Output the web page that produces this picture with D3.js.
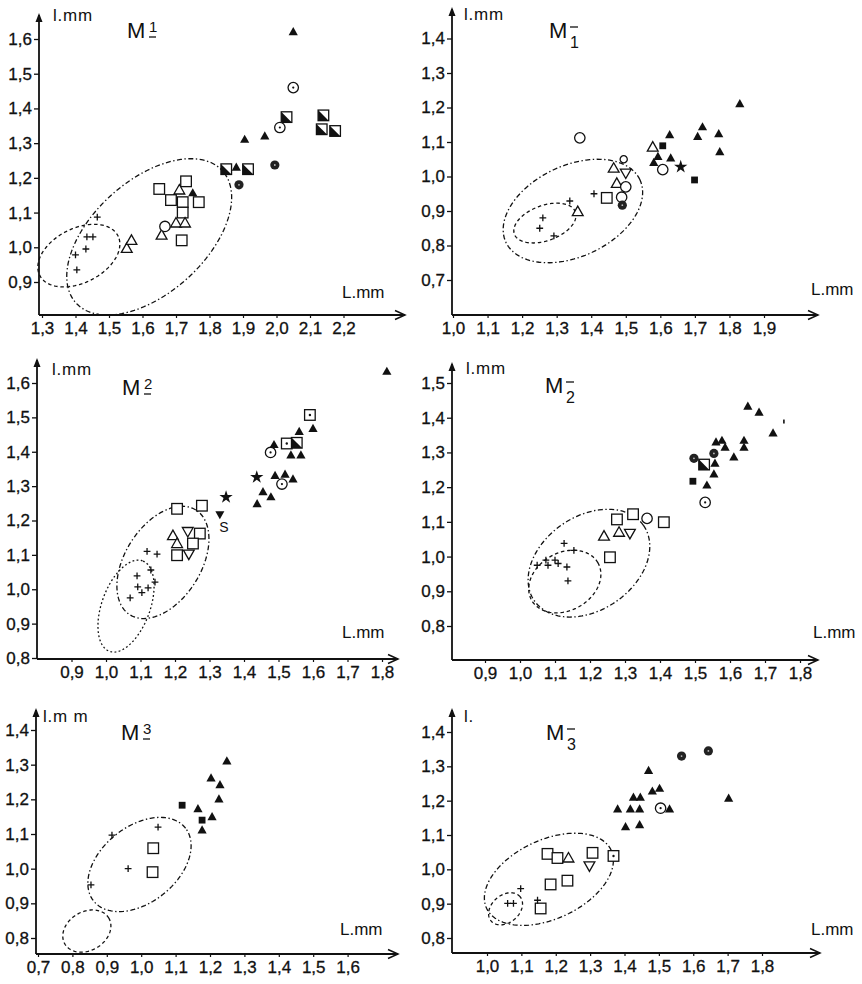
<!DOCTYPE html>
<html>
<head>
<meta charset="utf-8">
<script src="https://cdn.jsdelivr.net/npm/d3@7"></script>
<style>
  body { margin: 0; background: #fff; }
  text { font-family: "Liberation Sans", Arial, sans-serif; fill: #111; }
</style>
</head>
<body>
<div id="chart"></div>
<script>
//////////////////////////////////////////////
//////////////// Data ////////////////////////
//////////////////////////////////////////////

// tick values per panel (labels are written with a decimal comma)
var xTicksM1up = [1.3, 1.4, 1.5, 1.6, 1.7, 1.8, 1.9, 2.0, 2.1, 2.2];
var yTicksM1up = [0.9, 1.0, 1.1, 1.2, 1.3, 1.4, 1.5, 1.6];
var xTicksM1lo = [1.0, 1.1, 1.2, 1.3, 1.4, 1.5, 1.6, 1.7, 1.8, 1.9];
var yTicksM1lo = [0.7, 0.8, 0.9, 1.0, 1.1, 1.2, 1.3, 1.4];
var xTicksM2up = [0.9, 1.0, 1.1, 1.2, 1.3, 1.4, 1.5, 1.6, 1.7, 1.8];
var yTicksM2up = [0.8, 0.9, 1.0, 1.1, 1.2, 1.3, 1.4, 1.5, 1.6];
var xTicksM2lo = [0.9, 1.0, 1.1, 1.2, 1.3, 1.4, 1.5, 1.6, 1.7, 1.8];
var yTicksM2lo = [0.8, 0.9, 1.0, 1.1, 1.2, 1.3, 1.4, 1.5];
var xTicksM3up = [0.7, 0.8, 0.9, 1.0, 1.1, 1.2, 1.3, 1.4, 1.5, 1.6];
var yTicksM3up = [0.8, 0.9, 1.0, 1.1, 1.2, 1.3, 1.4];
var xTicksM3lo = [1.0, 1.1, 1.2, 1.3, 1.4, 1.5, 1.6, 1.7, 1.8];
var yTicksM3lo = [0.8, 0.9, 1.0, 1.1, 1.2, 1.3, 1.4];

// points: [L, l, symbol]
var pointsM1up = [
  [2.05, 1.62, "triF"], [2.05, 1.46, "cirD"], [2.14, 1.38, "sqH"], [2.135, 1.34, "sqH"],
  [2.175, 1.335, "sqH"], [2.03, 1.375, "sqH"], [2.01, 1.345, "cirD"], [1.905, 1.31, "triF"],
  [1.965, 1.32, "triF"], [1.995, 1.237, "cirF"], [1.85, 1.225, "sqH"], [1.88, 1.23, "triF"],
  [1.915, 1.225, "sqH"], [1.888, 1.18, "cirF"],
  [1.65, 1.168, "sqO"], [1.73, 1.19, "sqO"], [1.685, 1.136, "sqO"], [1.72, 1.13, "sqO"],
  [1.768, 1.13, "sqO"], [1.72, 1.10, "sqO"], [1.717, 1.02, "sqO"],
  [1.71, 1.165, "triO"], [1.70, 1.07, "triO"], [1.727, 1.07, "triO"], [1.657, 1.035, "triO"],
  [1.553, 0.997, "triO"], [1.567, 1.02, "triO"], [1.75, 1.156, "triF"], [1.667, 1.06, "cirO"],
  [1.434, 1.03, "plus"], [1.452, 1.03, "plus"], [1.431, 0.995, "plus"], [1.40, 0.978, "plus"],
  [1.404, 0.935, "plus"], [1.465, 1.087, "plus"]
];
var pointsM1lo = [
  [1.83, 1.21, "triF"], [1.627, 1.12, "triF"], [1.722, 1.143, "triF"], [1.708, 1.115, "triF"],
  [1.769, 1.123, "triF"], [1.772, 1.071, "triF"], [1.593, 1.057, "triF"], [1.581, 1.04, "triF"],
  [1.63, 1.053, "triF"], [1.607, 1.089, "sqF"], [1.699, 0.99, "sqF"], [1.659, 1.028, "star"],
  [1.607, 1.02, "cirO"], [1.578, 1.085, "triO"], [1.465, 1.024, "triO"], [1.474, 0.98, "triO"],
  [1.361, 0.898, "triO"], [1.5, 1.01, "invO"], [1.367, 1.112, "cirO"], [1.494, 1.05, "cirS"],
  [1.5, 0.97, "cirO"], [1.488, 0.94, "cirO"], [1.445, 0.938, "sqO"], [1.49, 0.917, "cirF"],
  [1.408, 0.95, "plus"], [1.338, 0.929, "plus"], [1.26, 0.88, "plus"], [1.251, 0.85, "plus"],
  [1.292, 0.828, "plus"]
];
var pointsM2up = [
  [1.814, 1.633, "triF"], [1.591, 1.507, "sqD"], [1.60, 1.467, "triF"], [1.56, 1.458, "triF"],
  [1.524, 1.424, "sqD"], [1.553, 1.426, "sqH"], [1.536, 1.39, "triF"], [1.565, 1.39, "triF"],
  [1.487, 1.42, "triF"], [1.477, 1.398, "cirD"], [1.437, 1.326, "star"], [1.49, 1.33, "triF"],
  [1.519, 1.334, "triF"], [1.542, 1.32, "triF"], [1.51, 1.306, "cirD"], [1.455, 1.283, "triF"],
  [1.478, 1.268, "triF"], [1.438, 1.248, "triF"], [1.348, 1.268, "star"], [1.33, 1.217, "invF"],
  [1.206, 1.234, "sqO"], [1.278, 1.243, "sqO"], [1.272, 1.162, "sqO"], [1.252, 1.133, "sqO"],
  [1.206, 1.099, "sqO"], [1.194, 1.156, "triO"], [1.206, 1.133, "triO"], [1.237, 1.168, "invO"],
  [1.24, 1.102, "invO"],
  [1.119, 1.11, "plus"], [1.148, 1.102, "plus"], [1.13, 1.056, "plus"], [1.09, 1.039, "plus"],
  [1.142, 1.021, "plus"], [1.092, 1.007, "plus"], [1.122, 1.004, "plus"], [1.104, 0.99, "plus"],
  [1.07, 0.975, "plus"]
];
var pointsM2lo = [
  [1.651, 1.432, "triF"], [1.683, 1.415, "triF"], [1.723, 1.355, "triF"], [1.754, 1.389, "dot"],
  [1.56, 1.329, "triF"], [1.577, 1.334, "triF"], [1.586, 1.314, "triF"], [1.64, 1.334, "triF"],
  [1.64, 1.314, "triF"], [1.611, 1.286, "triF"], [1.557, 1.268, "triF"], [1.554, 1.237, "triF"],
  [1.534, 1.205, "triF"], [1.497, 1.283, "cirF"], [1.554, 1.297, "cirF"], [1.526, 1.265, "sqH"],
  [1.494, 1.217, "sqF"], [1.529, 1.156, "cirD"],
  [1.277, 1.107, "sqO"], [1.323, 1.122, "sqO"], [1.411, 1.099, "sqO"], [1.257, 0.998, "sqO"],
  [1.363, 1.11, "cirO"], [1.24, 1.059, "triO"], [1.283, 1.07, "triO"], [1.314, 1.067, "invO"],
  [1.049, 0.975, "plus"], [1.074, 0.99, "plus"], [1.08, 0.975, "plus"], [1.109, 0.98, "plus"],
  [1.10, 0.99, "plus"], [1.126, 1.038, "plus"], [1.154, 1.018, "plus"], [1.134, 0.97, "plus"],
  [1.137, 0.93, "plus"]
];
var pointsM3up = [
  [1.249, 1.31, "triF"], [1.203, 1.261, "triF"], [1.229, 1.241, "triF"], [1.226, 1.20, "triF"],
  [1.165, 1.172, "triF"], [1.206, 1.149, "triF"], [1.177, 1.111, "triF"],
  [1.119, 1.183, "sqF"], [1.177, 1.14, "sqF"],
  [0.915, 1.097, "plus"], [1.049, 1.12, "plus"], [0.962, 1.0, "plus"], [0.854, 0.953, "plus"],
  [1.035, 1.059, "sqO"], [1.033, 0.99, "sqO"]
];
var pointsM3lo = [
  [1.566, 1.33, "cirF"], [1.644, 1.345, "cirF"],
  [1.47, 1.287, "triF"], [1.481, 1.227, "triF"], [1.502, 1.235, "triF"], [1.426, 1.209, "triF"],
  [1.446, 1.209, "triF"], [1.38, 1.175, "triF"], [1.417, 1.175, "triF"], [1.444, 1.175, "triF"],
  [1.531, 1.175, "triF"], [1.403, 1.123, "triF"], [1.444, 1.129, "triF"], [1.703, 1.206, "triF"],
  [1.505, 1.178, "cirD"],
  [1.176, 1.045, "sqO"], [1.205, 1.033, "sqO"], [1.307, 1.048, "sqO"], [1.185, 0.956, "sqO"],
  [1.234, 0.967, "sqO"], [1.156, 0.886, "sqO"], [1.368, 1.039, "sqD"],
  [1.237, 1.033, "triO"], [1.298, 1.01, "invO"],
  [1.098, 0.944, "plus"], [1.06, 0.901, "plus"], [1.077, 0.901, "plus"], [1.147, 0.91, "plus"]
];

// ellipses: [centre L, centre l, semi-axis a, semi-axis b, angle (deg), line style]
var ellipsesM1up = [[1.62, 1.03, 0.29, 0.165, 40, "dashdot"], [1.41, 0.976, 0.13, 0.079, 25, "dash"]];
var ellipsesM1lo = [[1.347, 0.90, 0.214, 0.132, 25, "dashdot"], [1.266, 0.865, 0.094, 0.051, 20, "dash"]];
var ellipsesM2up = [[1.165, 1.078, 0.18, 0.11, 58, "dashdot"], [1.058, 0.951, 0.14, 0.07, 70, "dot"]];
var ellipsesM2lo = [[1.197, 0.981, 0.19, 0.135, 35, "dashdot"], [1.128, 0.928, 0.109, 0.083, 30, "dash"]];
var ellipsesM3up = [[0.995, 1.012, 0.17, 0.11, 38, "dashdot"], [0.842, 0.82, 0.074, 0.056, 30, "dash"]];
var ellipsesM3lo = [[1.18, 0.971, 0.20, 0.115, 25, "dashdot"], [1.054, 0.885, 0.055, 0.04, 40, "dash"]];

// loose annotations
var notesM2up = [[1.342, 1.168, "S"]];

//////////////////////////////////////////////
//////////////// Layout //////////////////////
//////////////////////////////////////////////

var W = 862, H = 984;
var ink = "#111";

var panels = [
  {pts: pointsM1up, ell: ellipsesM1up, xt: xTicksM1up, yt: yTicksM1up, notes: [],
   xr: [42, 343.5], yr: [282, 39], ox: 39, oy: 315, xEnd: 405, yTop: 13,
   yLab: "l.mm", yLabPos: [53, 21], xLabPos: [342, 298], title: [127, 38, "1", true]},
  {pts: pointsM1lo, ell: ellipsesM1lo, xt: xTicksM1lo, yt: yTicksM1lo, notes: [],
   xr: [453, 764], yr: [280, 38.5], ox: 452, oy: 315, xEnd: 818, yTop: 7,
   yLab: "l.mm", yLabPos: [464, 20], xLabPos: [811, 295], title: [549, 38, "1", false]},
  {pts: pointsM2up, ell: ellipsesM2up, xt: xTicksM2up, yt: yTicksM2up, notes: notesM2up,
   xr: [71.5, 382], yr: [658, 383], ox: 37, oy: 659, xEnd: 398, yTop: 358,
   yLab: "l.mm", yLabPos: [52, 375], xLabPos: [342, 638], title: [122, 395, "2", true]},
  {pts: pointsM2lo, ell: ellipsesM2lo, xt: xTicksM2lo, yt: yTicksM2lo, notes: [],
   xr: [485, 800], yr: [626, 383], ox: 452, oy: 660, xEnd: 818, yTop: 362,
   yLab: "l.mm", yLabPos: [466, 374], xLabPos: [813, 638], title: [545, 393, "2", false]},
  {pts: pointsM3up, ell: ellipsesM3up, xt: xTicksM3up, yt: yTicksM3up, notes: [],
   xr: [38, 347.6], yr: [938, 730], ox: 36, oy: 954, xEnd: 398, yTop: 708,
   yLab: "l.m m", yLabPos: [43, 722], xLabPos: [340, 935], title: [121, 740, "3", true]},
  {pts: pointsM3lo, ell: ellipsesM3lo, xt: xTicksM3lo, yt: yTicksM3lo, notes: [],
   xr: [487, 762], yr: [938, 732], ox: 452, oy: 953, xEnd: 820, yTop: 708,
   yLab: "l.", yLabPos: [464, 722], xLabPos: [811, 935], title: [546, 740, "3", false]}
];

var fmt = function(d) { return d.toFixed(1).replace(".", ","); };

var svg = d3.select("#chart").append("svg")
  .attr("width", W)
  .attr("height", H);

//////////////////////////////////////////////
//////////////// Markers /////////////////////
//////////////////////////////////////////////

function drawMarker(g, px, py, type) {
  var m = g.append("g").attr("transform", "translate(" + px + "," + py + ")");
  if (type === "triF") {
    m.append("path").attr("d", "M0,-5L4.6,3.2L-4.6,3.2Z").attr("fill", ink);
  } else if (type === "triO") {
    m.append("path").attr("d", "M0,-5.5L5.4,4L-5.4,4Z").attr("fill", "#fff")
      .attr("stroke", ink).attr("stroke-width", 1.3);
  } else if (type === "invO") {
    m.append("path").attr("d", "M0,5.5L5.4,-4L-5.4,-4Z").attr("fill", "#fff")
      .attr("stroke", ink).attr("stroke-width", 1.3);
  } else if (type === "invF") {
    m.append("path").attr("d", "M0,4.5L4.5,-3.5L-4.5,-3.5Z").attr("fill", ink);
  } else if (type === "sqO" || type === "sqD" || type === "sqH") {
    m.append("rect").attr("x", -5.3).attr("y", -5.3).attr("width", 10.6).attr("height", 10.6)
      .attr("fill", "#fff").attr("stroke", ink).attr("stroke-width", 1.3);
    if (type === "sqD") m.append("circle").attr("r", 1.2).attr("fill", ink);
    if (type === "sqH") m.append("path").attr("d", "M-5.3,-5.3L-5.3,5.3L5.3,5.3Z").attr("fill", ink);
  } else if (type === "sqF") {
    m.append("rect").attr("x", -3.4).attr("y", -3.4).attr("width", 6.8).attr("height", 6.8)
      .attr("fill", ink);
  } else if (type === "cirO" || type === "cirD" || type === "cirS") {
    m.append("circle").attr("r", type === "cirS" ? 3.6 : 5.2).attr("fill", "#fff")
      .attr("stroke", ink).attr("stroke-width", 1.3);
    if (type === "cirD") m.append("circle").attr("r", 1.1).attr("fill", ink);
  } else if (type === "cirF") {
    m.append("circle").attr("r", 4.6).attr("fill", "#222");
    m.append("circle").attr("r", 0.9).attr("fill", "#bbb");
  } else if (type === "plus") {
    m.append("path").attr("d", "M-3.4,0H3.4M0,-3.4V3.4")
      .attr("stroke", ink).attr("stroke-width", 1.3);
  } else if (type === "star") {
    m.append("path").attr("d", d3.symbol(d3.symbolStar, 55)()).attr("fill", ink);
  } else if (type === "dot") {
    m.append("rect").attr("x", -0.8).attr("y", -2).attr("width", 1.6).attr("height", 4).attr("fill", ink);
  }
}

var dashes = { dashdot: "5,2.5,1.4,2.5", dash: "3.5,2.8", dot: "1.8,2.4" };

//////////////////////////////////////////////
//////////////// Panels //////////////////////
//////////////////////////////////////////////

panels.forEach(function(p) {
  var g = svg.append("g");

  var x = d3.scaleLinear()
    .domain([p.xt[0], p.xt[p.xt.length - 1]])
    .range(p.xr);
  var y = d3.scaleLinear()
    .domain([p.yt[0], p.yt[p.yt.length - 1]])
    .range(p.yr);

  // ellipses drawn in data space
  var line = d3.line()
    .x(function(d) { return x(d[0]); })
    .y(function(d) { return y(d[1]); })
    .curve(d3.curveLinearClosed);

  p.ell.forEach(function(e) {
    var th = e[4] * Math.PI / 180, ring = [];
    for (var i = 0; i < 120; i++) {
      var t = i / 120 * 2 * Math.PI;
      ring.push([
        e[0] + e[2] * Math.cos(t) * Math.cos(th) - e[3] * Math.sin(t) * Math.sin(th),
        e[1] + e[2] * Math.cos(t) * Math.sin(th) + e[3] * Math.sin(t) * Math.cos(th)
      ]);
    }
    g.append("path")
      .attr("d", line(ring))
      .attr("fill", "none")
      .attr("stroke", ink)
      .attr("stroke-width", 1.3)
      .attr("stroke-dasharray", dashes[e[5]]);
  });

  // y axis
  var ya = g.append("g")
    .attr("transform", "translate(" + p.ox + ",0)")
    .call(d3.axisLeft(y).tickValues(p.yt).tickFormat(fmt).tickSize(5).tickPadding(2));
  ya.select(".domain").remove();
  ya.selectAll("line").attr("stroke", ink).attr("stroke-width", 1.3);
  ya.selectAll("text")
    .attr("font-size", 17)
    .attr("font-family", "Liberation Sans, Arial, sans-serif")
    .attr("fill", ink).attr("stroke", ink).attr("stroke-width", 0.3);

  // x axis
  var xa = g.append("g")
    .attr("transform", "translate(0," + p.oy + ")")
    .call(d3.axisBottom(x).tickValues(p.xt).tickFormat(fmt).tickSize(3).tickPadding(4));
  xa.select(".domain").remove();
  xa.selectAll("line").attr("stroke", ink).attr("stroke-width", 1.2);
  xa.selectAll("text")
    .attr("font-size", 17)
    .attr("font-family", "Liberation Sans, Arial, sans-serif")
    .attr("fill", ink).attr("stroke", ink).attr("stroke-width", 0.3);

  // axis lines with arrows
  g.append("path")
    .attr("d", "M" + p.ox + "," + p.oy + "V" + (p.yTop + 2) + "M" + p.ox + "," + p.oy + "H" + p.xEnd)
    .attr("fill", "none").attr("stroke", ink).attr("stroke-width", 1.8);
  g.append("path")
    .attr("d", "M" + (p.ox - 3.5) + "," + (p.yTop + 9) + "L" + p.ox + "," + p.yTop + "L" + (p.ox + 3.5) + "," + (p.yTop + 9) + "Z")
    .attr("fill", ink);
  g.append("path")
    .attr("d", "M" + (p.xEnd - 10) + "," + (p.oy - 4.5) + "L" + p.xEnd + "," + p.oy + "L" + (p.xEnd - 10) + "," + (p.oy + 4.5))
    .attr("fill", "none").attr("stroke", ink).attr("stroke-width", 1.5);

  // axis names
  g.append("text").attr("x", p.yLabPos[0]).attr("y", p.yLabPos[1])
    .attr("font-size", 17).attr("letter-spacing", 0.8).text(p.yLab);
  g.append("text").attr("x", p.xLabPos[0]).attr("y", p.xLabPos[1])
    .attr("font-size", 17).text("L.mm");

  // title M with molar number
  var tx = p.title[0], ty = p.title[1];
  g.append("text").attr("x", tx).attr("y", ty).attr("font-size", 22).text("M");
  if (p.title[3]) {
    g.append("text").attr("x", tx + 22).attr("y", ty - 6).attr("font-size", 15).text(p.title[2]);
    g.append("line").attr("x1", tx + 22).attr("x2", tx + 29).attr("y1", ty - 1).attr("y2", ty - 1)
      .attr("stroke", ink).attr("stroke-width", 1.3);
  } else {
    g.append("text").attr("x", tx + 21).attr("y", ty + 10).attr("font-size", 16).text(p.title[2]);
    g.append("line").attr("x1", tx + 21).attr("x2", tx + 29).attr("y1", ty - 11).attr("y2", ty - 11)
      .attr("stroke", ink).attr("stroke-width", 1.3);
  }

  // points
  p.pts.forEach(function(d) { drawMarker(g, x(d[0]), y(d[1]), d[2]); });

  p.notes.forEach(function(d) {
    g.append("text").attr("x", x(d[0])).attr("y", y(d[1]))
      .attr("font-size", 14).attr("text-anchor", "middle").text(d[2]);
  });
});
</script>
</body>
</html>
